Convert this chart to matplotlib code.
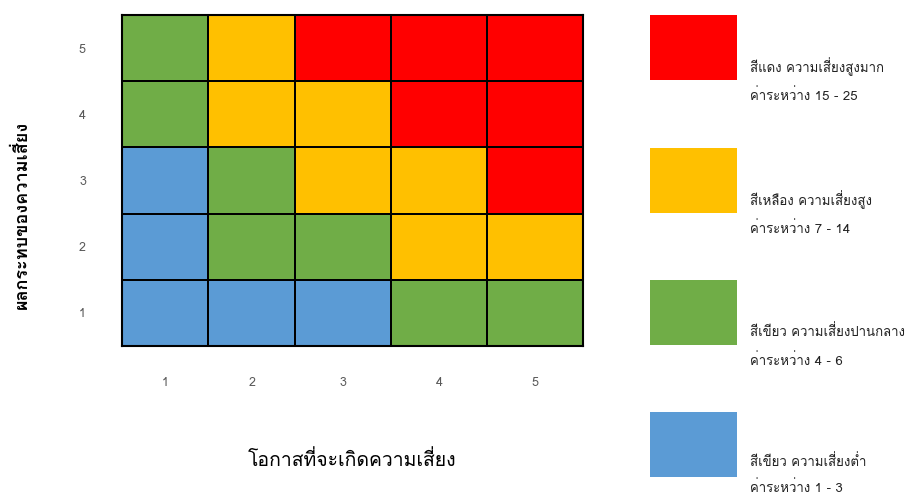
import matplotlib
matplotlib.use("Agg")
import numpy as np
import matplotlib.pyplot as plt
from matplotlib.colors import ListedColormap, BoundaryNorm
from matplotlib.patches import Rectangle
from matplotlib import font_manager as fm

# pick a Thai-capable family that is installed
have = {f.name for f in fm.fontManager.ttflist}
thai = [n for n in ["Tahoma", "Loma", "Noto Sans Thai", "Sarabun", "Garuda"] if n in have]
plt.rcParams["font.family"] = thai[:1] + ["DejaVu Sans"]

likelihood = [1, 2, 3, 4, 5]
impact = [1, 2, 3, 4, 5]
# risk level per cell, row = impact 1..5, col = likelihood 1..5
# 0 = low (blue), 1 = medium (green), 2 = high (yellow), 3 = very high (red)
levels = [
    [0, 0, 0, 1, 1],
    [0, 1, 1, 2, 2],
    [0, 1, 2, 2, 3],
    [1, 2, 2, 3, 3],
    [1, 2, 3, 3, 3],
]
level_names = ["สีเขียว ความเสี่ยงต่ำ", "สีเขียว ความเสี่ยงปานกลาง",
               "สีเหลือง ความเสี่ยงสูง", "สีแดง ความเสี่ยงสูงมาก"]
level_ranges = ["ค่าระหว่าง 1 - 3", "ค่าระหว่าง 4 - 6",
                "ค่าระหว่าง 7 - 14", "ค่าระหว่าง 15 - 25"]
colors = ["#5B9BD5", "#70AD47", "#FFC000", "#FF0000"]

# column widths in the original are a bit uneven
col_w = np.array([0.9, 0.9, 1.0, 1.0, 1.0])
xedges = np.concatenate([[0], np.cumsum(col_w)])
xcent = (xedges[:-1] + xedges[1:]) / 2
yedges = np.arange(len(impact) + 1)

fig = plt.figure(figsize=(9.11, 4.98), dpi=100)
ax = fig.add_axes([122 / 911, 1 - 346 / 498, 461 / 911, 331 / 498])
cmap = ListedColormap(colors)
norm = BoundaryNorm([-0.5, 0.5, 1.5, 2.5, 3.5], cmap.N)
ax.pcolormesh(xedges, yedges, np.array(levels), cmap=cmap, norm=norm,
              edgecolors="black", linewidth=1.1)
ax.set_xlim(xedges[0], xedges[-1])
ax.set_ylim(0, len(impact))
ax.set_xticks(xcent)
ax.set_xticklabels(likelihood)
ax.set_yticks(yedges[:-1] + 0.5)
ax.set_yticklabels(impact)
ax.tick_params(length=0, labelsize=9, labelcolor="#595959")
ax.tick_params(axis="x", pad=22)
ax.tick_params(axis="y", pad=26)
for s in ax.spines.values():
    s.set_linewidth(1.5)
    s.set_color("black")

ax.set_xlabel("โอกาสที่จะเกิดความเสี่ยง", fontsize=14, labelpad=44)
fig.text(22 / 911, 1 - 215 / 498, "ผลกระทบของความเสี่ยง", rotation=90,
         fontsize=13, fontweight="bold", ha="center", va="center")

# legend boxes on the right, top = very high
tops = [15, 148, 280, 412]
for i, top in enumerate(tops):
    k = len(colors) - 1 - i
    off1, off2 = (52, 81) if k > 0 else (50, 76)
    fig.patches.append(Rectangle((650 / 911, 1 - (top + 65) / 498), 87 / 911, 65 / 498,
                                 transform=fig.transFigure, facecolor=colors[k],
                                 edgecolor="none"))
    fig.text(750 / 911, 1 - (top + off1) / 498, level_names[k], fontsize=9.5,
             va="center", ha="left", color="#222222")
    fig.text(750 / 911, 1 - (top + off2) / 498, level_ranges[k], fontsize=9.5,
             va="center", ha="left", color="#222222")

fig.savefig("out.png")
